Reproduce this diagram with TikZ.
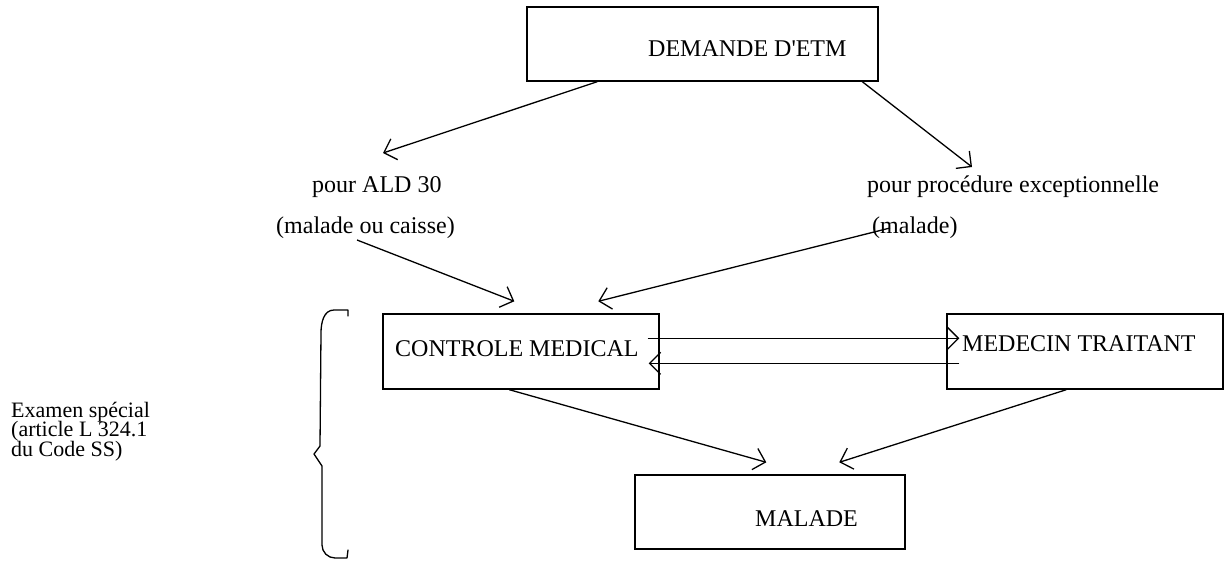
\documentclass[tikz,border=0pt]{standalone}
\usepackage{fontspec}
\setmainfont{Liberation Serif}
\usetikzlibrary{arrows.meta,calc}
\begin{document}
\begin{tikzpicture}[x=1pt,y=-1pt,
  box/.style={draw,line width=1.4pt,rectangle,inner sep=0pt},
  txt/.style={anchor=base west,inner sep=0pt,font=\fontsize{24}{18}\selectfont},
  sidetxt/.style={anchor=base west,inner sep=0pt,font=\fontsize{22}{18}\selectfont},
  conn/.style={line width=1.3pt,-{Straight Barb[length=11pt,width=22pt,line width=1.3pt]}},
  bracestyle/.style={line width=1.3pt,line join=round,line cap=round}]
\useasboundingbox (0,0) rectangle (1227,562);
% boxes
\node[box,minimum width=351pt,minimum height=74pt] (dem)  at (702.5,44) {};
\node[box,minimum width=276pt,minimum height=75pt] (ctrl) at (521,351.5) {};
\node[box,minimum width=276pt,minimum height=75pt] (med)  at (1085,351.5) {};
\node[box,minimum width=270pt,minimum height=74pt] (mal)  at (770,512) {};
% box texts
\node[txt] (demt)  at (648,56)  {DEMANDE D\textquotesingle ETM};
\node[txt] (ctrlt) at (395,356) {CONTROLE MEDICAL};
\node[txt] (medt)  at (962,351) {MEDECIN TRAITANT};
\node[txt] (malt)  at (755,526) {MALADE};
% free texts
\node[txt] (ald1) at (312,192) {pour ALD 30};
\node[txt] (ald2) at (276,233) {(malade ou caisse)};
\node[txt] (exc1) at (867,192) {pour procédure exceptionnelle};
\node[txt] (exc2) at (872,233) {(malade)};
\node[sidetxt] (ex1) at (11,417) {Examen spécial};
\node[sidetxt] (ex2) at (11,436.5) {(article L 324.1};
\node[sidetxt] (ex3) at (11,456) {du Code SS)};
% free arrow ends / starts
\coordinate (aldtip) at (383,153);
\coordinate (exctip) at (972,167);
\coordinate (aldstart) at (357,240);
\coordinate (excstart) at (890,228);
% connectors
\draw[conn] ($(dem.south west)+(71,0)$) -- (aldtip);
\draw[conn] ($(dem.south west)+(336,0)$) -- (exctip);
\draw[conn] (aldstart) -- ($(ctrl.north west)+(132,-12)$);
\draw[conn] (excstart) -- ($(ctrl.north west)+(216,-12)$);
\draw[conn] ($(ctrl.north east)+(-12,25)$) -- ($(med.north west)+(13,25)$);
\draw[conn] ($(med.north west)+(13,50)$) -- ($(ctrl.north east)+(-11,50)$);
\draw[conn] ($(ctrl.south west)+(127,0)$) -- ($(mal.north west)+(132,-12)$);
\draw[conn] ($(med.south west)+(120,0)$) -- ($(mal.north west)+(205,-12)$);
% brace
\draw[bracestyle] (348,316) -- (348,310) -- (334,310)
  to[out=180,in=90] (321,333) -- (320,446) -- (314,454) -- (322,466)
  -- (322,545) to[out=-90,in=180] (335,558) -- (347,558) -- (348,550);
\end{tikzpicture}
\end{document}
